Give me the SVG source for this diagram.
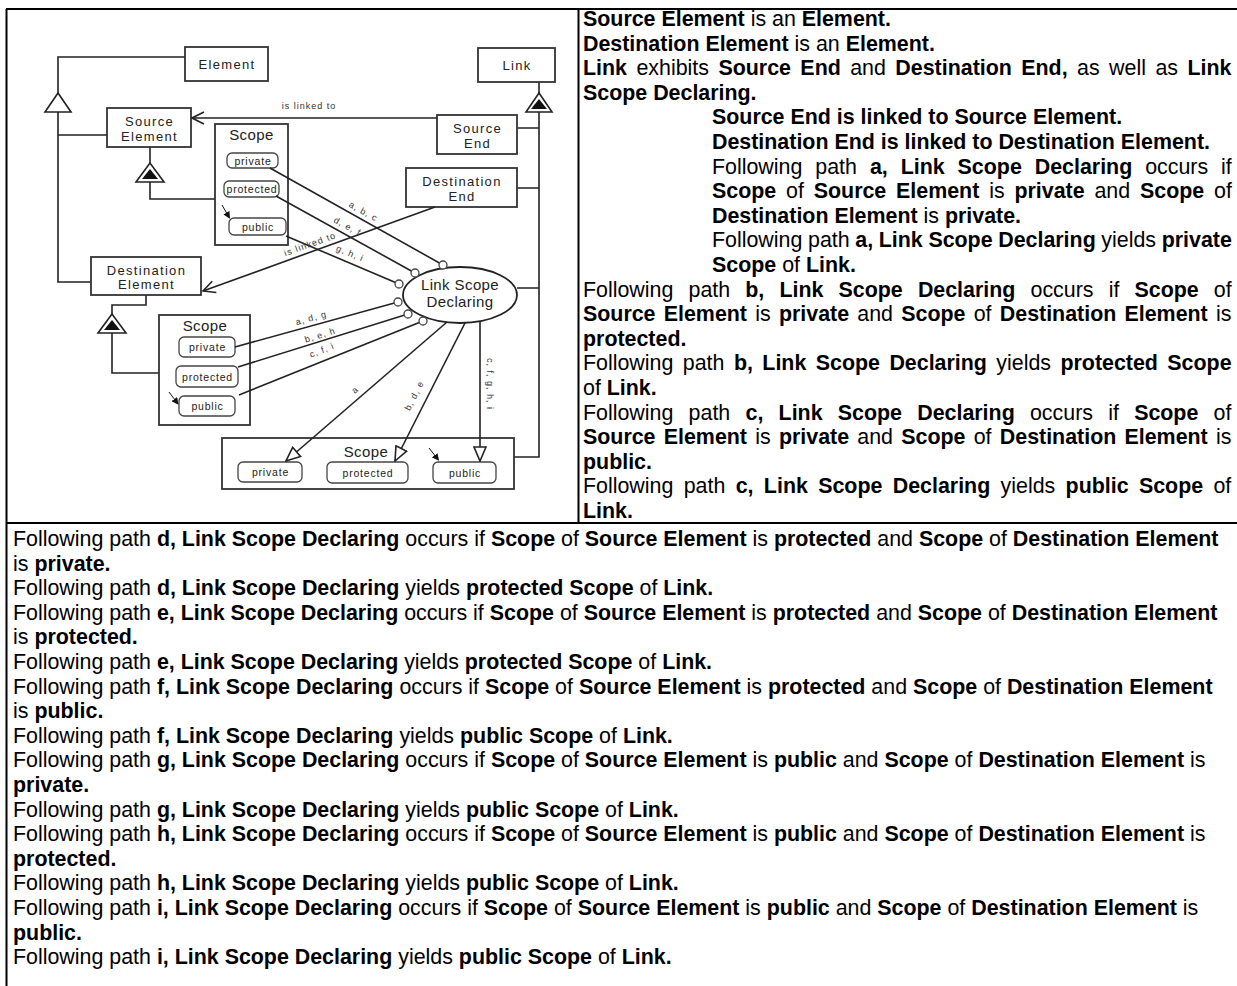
<svg xmlns="http://www.w3.org/2000/svg" width="1237" height="986" viewBox="0 0 1237 986">
<style>
.tx{font-family:"Liberation Sans",Arial,sans-serif;font-size:21.4px;fill:#000}
.b{font-weight:bold}
.box{fill:#fff;stroke:#333;stroke-width:1.8}
.pill{fill:#fff;stroke:#444;stroke-width:1.3}
.lbl{font-family:"Liberation Sans",Arial,sans-serif;font-size:13px;letter-spacing:1.3px;fill:#222;text-anchor:middle}
.sc{font-family:"Liberation Sans",Arial,sans-serif;font-size:15px;letter-spacing:0.4px;fill:#222;text-anchor:middle}
.pl{font-family:"Liberation Sans",Arial,sans-serif;font-size:10.5px;letter-spacing:0.8px;fill:#222;text-anchor:middle}
.el{font-family:"Liberation Sans",Arial,sans-serif;font-size:9px;letter-spacing:1px;fill:#333;text-anchor:middle}
.ov{font-family:"Liberation Sans",Arial,sans-serif;font-size:15px;letter-spacing:0.4px;fill:#222;text-anchor:middle}
.ln{fill:none;stroke:#222;stroke-width:1.6}
.tri{fill:#fff;stroke:#222;stroke-width:1.6}
.grid{stroke:#000;stroke-width:2;fill:none}
</style>
<defs>
<marker id="vee" viewBox="0 0 14 14" refX="13" refY="7" markerWidth="14" markerHeight="14" orient="auto" markerUnits="userSpaceOnUse"><path d="M1,1 L13,7 L1,13" fill="none" stroke="#222" stroke-width="1.6"/></marker>
<marker id="otri" viewBox="0 0 16 14" refX="15" refY="7" markerWidth="16" markerHeight="14" orient="auto" markerUnits="userSpaceOnUse"><path d="M1,1 L15,7 L1,13 Z" fill="#fff" stroke="#222" stroke-width="1.6"/></marker>
<marker id="small" viewBox="0 0 8 8" refX="7" refY="4" markerWidth="7" markerHeight="7" orient="auto" markerUnits="userSpaceOnUse"><path d="M0,0 L8,4 L0,8 Z" fill="#111"/></marker>
</defs>
<rect x="0" y="0" width="1237" height="986" fill="#fff"/>
<g id="table">
<path class="grid" d="M6,9 H1237 M6.5,9 V986 M578.5,9 V523 M6,523 H1237"/>
</g>
<g id="structure">
<path class="ln" d="M185,57 H58 V93 M58,112 V282 H91 M58,135 H107"/>
<polygon class="tri" points="58,93 45,112 71,112"/>
<path class="ln" d="M150,147 V163 M150,182 V199 H215"/>
<polygon class="tri" points="150,163 136,182 164,182"/>
<polygon points="150,169 142,179 158,179" fill="#111"/>
<path class="ln" d="M146,295 V305 H112 V314 M112,333 V373 H159"/>
<polygon class="tri" points="112,314 98,333 126,333"/>
<polygon points="112,320 104,330 120,330" fill="#111"/>
<path class="ln" d="M539,82 V93 M539,112 V457 H514 M517,128 H539 M517,188 H539 M517,288 H539"/>
<polygon class="tri" points="539,93 526,112 552,112"/>
<polygon points="539,99 531,109 547,109" fill="#111"/>
</g>
<g id="element"><rect class="box" x="185" y="47" width="83" height="34"/><text class="lbl" x="227" y="69">Element</text></g>
<g id="link"><rect class="box" x="478" y="48" width="77" height="34"/><text class="lbl" x="517" y="70">Link</text></g>
<g id="source-element"><rect class="box" x="107" y="108" width="84" height="39"/><text class="lbl" x="149.5" y="126">Source</text><text class="lbl" x="149.5" y="140.5">Element</text></g>
<g id="source-end"><rect class="box" x="437" y="115" width="80" height="39"/><text class="lbl" x="477.5" y="133">Source</text><text class="lbl" x="477.5" y="147.5">End</text></g>
<g id="destination-end"><rect class="box" x="406" y="168" width="111" height="39"/><text class="lbl" x="462" y="186">Destination</text><text class="lbl" x="462" y="200.5">End</text></g>
<g id="destination-element"><rect class="box" x="91" y="257" width="110" height="38"/><text class="lbl" x="146.5" y="274.5">Destination</text><text class="lbl" x="146.5" y="289">Element</text></g>
<g id="source-scope">
<rect class="box" x="215" y="124" width="73" height="121"/><text class="sc" x="251.5" y="140">Scope</text>
<rect class="pill" x="227" y="153" width="51" height="15" rx="5"/><text class="pl" x="253" y="164.5">private</text>
<rect class="pill" x="224" y="181" width="55" height="16" rx="5"/><text class="pl" x="252" y="193">protected</text>
<rect class="pill" x="229" y="218" width="57" height="17" rx="5"/><text class="pl" x="258" y="230.5">public</text>
<path d="M222,205 L229.5,218" stroke="#111" stroke-width="1" marker-end="url(#small)"/>
</g>
<g id="destination-scope">
<rect class="box" x="159" y="315" width="91" height="110"/><text class="sc" x="205" y="331">Scope</text>
<rect class="pill" x="179" y="337" width="56" height="20" rx="5"/><text class="pl" x="207.5" y="351">private</text>
<rect class="pill" x="176" y="366" width="62" height="21" rx="5"/><text class="pl" x="207.5" y="380.5">protected</text>
<rect class="pill" x="179" y="396" width="56" height="20" rx="5"/><text class="pl" x="207.5" y="410">public</text>
<path d="M169,392 L178,404" stroke="#111" stroke-width="1" marker-end="url(#small)"/>
</g>
<g id="link-scope">
<rect class="box" x="222" y="438" width="292" height="51"/><text class="sc" x="366" y="457">Scope</text>
<rect class="pill" x="238" y="462" width="64" height="20" rx="5"/><text class="pl" x="270.5" y="476">private</text>
<rect class="pill" x="327" y="462" width="81" height="21" rx="5"/><text class="pl" x="368" y="476.5">protected</text>
<rect class="pill" x="433" y="462" width="63" height="21" rx="5"/><text class="pl" x="465" y="476.5">public</text>
<path d="M429,448 L438.5,460" stroke="#111" stroke-width="1" marker-end="url(#small)"/>
</g>
<g id="link-scope-declaring"><ellipse cx="460" cy="295" rx="57" ry="28" fill="#fff" stroke="#222" stroke-width="1.8"/><text class="ov" x="460" y="290">Link Scope</text><text class="ov" x="460" y="307">Declaring</text></g>
<g id="connectors">
<path class="ln" d="M437,118 H192" marker-end="url(#vee)"/>
<path class="ln" d="M435,207 L203,291" marker-end="url(#vee)"/>
<path class="ln" d="M270,168 L443,265 M276,196 L415,273 M286,236 L399,284 M235,347 L398,302 M238,367 L408,314 M239,395 L423,321"/>
<g fill="#fff" stroke="#444" stroke-width="1.3">
<circle cx="443" cy="265" r="4"/><circle cx="415" cy="273" r="4"/><circle cx="399" cy="284" r="4"/><circle cx="398" cy="302" r="4"/><circle cx="408" cy="314" r="4"/><circle cx="423" cy="321" r="4"/>
</g>
<path class="ln" d="M447,322 L286,461" marker-end="url(#otri)"/>
<path class="ln" d="M465,323 L395,461" marker-end="url(#otri)"/>
<path class="ln" d="M480,321 L480,461" marker-end="url(#otri)"/>
<text class="el" x="309" y="109">is linked to</text>
<text class="el" transform="translate(311,247) rotate(-19.6)">is linked to</text>
<text class="el" transform="translate(362,214) rotate(29)">a, b, c</text>
<text class="el" transform="translate(346,229) rotate(28.6)">d, e, f</text>
<text class="el" transform="translate(349,256) rotate(22.7)">g, h, i</text>
<text class="el" transform="translate(312,321) rotate(-15.3)">a, d, g</text>
<text class="el" transform="translate(321,338) rotate(-17)">b, e, h</text>
<text class="el" transform="translate(323,353) rotate(-21.7)">c, f, i</text>
<text class="el" transform="translate(357,392) rotate(-40.8)">a</text>
<text class="el" transform="translate(417,397) rotate(-62.6)">b, d, e</text>
<text class="el" transform="translate(487,384) rotate(90)">c, f, g, h, i</text>
</g>
<g id="right-text" class="tx">
<text x="583" y="26"><tspan class="b">Source Element</tspan> is an <tspan class="b">Element.</tspan></text>
<text x="583" y="50.6"><tspan class="b">Destination Element</tspan> is an <tspan class="b">Element.</tspan></text>
<text x="583" y="75.2" word-spacing="3.5"><tspan class="b">Link</tspan> exhibits <tspan class="b">Source End</tspan> and <tspan class="b">Destination End,</tspan> as well as <tspan class="b">Link</tspan></text>
<text x="583" y="99.8" class="b">Scope Declaring.</text>
<text x="712" y="124.4" class="b">Source End is linked to Source Element.</text>
<text x="712" y="149" class="b">Destination End is linked to Destination Element.</text>
<text x="712" y="173.6" word-spacing="7">Following path <tspan class="b">a, Link Scope Declaring</tspan> occurs if</text>
<text x="712" y="198.2" word-spacing="3.9"><tspan class="b">Scope</tspan> of <tspan class="b">Source Element</tspan> is <tspan class="b">private</tspan> and <tspan class="b">Scope</tspan> of</text>
<text x="712" y="222.8"><tspan class="b">Destination Element</tspan> is <tspan class="b">private.</tspan></text>
<text x="712" y="247.4" word-spacing="-0.3">Following path <tspan class="b">a, Link Scope Declaring</tspan> yields <tspan class="b">private</tspan></text>
<text x="712" y="272"><tspan class="b">Scope</tspan> of <tspan class="b">Link.</tspan></text>
<text x="583" y="296.6" word-spacing="9.2">Following path <tspan class="b">b, Link Scope Declaring</tspan> occurs if <tspan class="b">Scope</tspan> of</text>
<text x="583" y="321.2" word-spacing="2.3"><tspan class="b">Source Element</tspan> is <tspan class="b">private</tspan> and <tspan class="b">Scope</tspan> of <tspan class="b">Destination Element</tspan> is</text>
<text x="583" y="345.8" class="b">protected.</text>
<text x="583" y="370.4" word-spacing="3.5">Following path <tspan class="b">b, Link Scope Declaring</tspan> yields <tspan class="b">protected Scope</tspan></text>
<text x="583" y="395">of <tspan class="b">Link.</tspan></text>
<text x="583" y="419.6" word-spacing="9.3">Following path <tspan class="b">c, Link Scope Declaring</tspan> occurs if <tspan class="b">Scope</tspan> of</text>
<text x="583" y="444.2" word-spacing="2.3"><tspan class="b">Source Element</tspan> is <tspan class="b">private</tspan> and <tspan class="b">Scope</tspan> of <tspan class="b">Destination Element</tspan> is</text>
<text x="583" y="468.8" class="b">public.</text>
<text x="583" y="493.4" word-spacing="4.4">Following path <tspan class="b">c, Link Scope Declaring</tspan> yields <tspan class="b">public Scope</tspan> of</text>
<text x="583" y="518" class="b">Link.</text>
</g>
<g id="bottom-text" class="tx">
<text x="13" y="546">Following path <tspan class="b">d, Link Scope Declaring</tspan> occurs if <tspan class="b">Scope</tspan> of <tspan class="b">Source Element</tspan> is <tspan class="b">protected</tspan> and <tspan class="b">Scope</tspan> of <tspan class="b">Destination Element</tspan></text>
<text x="13" y="570.6">is <tspan class="b">private.</tspan></text>
<text x="13" y="595.2">Following path <tspan class="b">d, Link Scope Declaring</tspan> yields <tspan class="b">protected Scope</tspan> of <tspan class="b">Link.</tspan></text>
<text x="13" y="619.8">Following path <tspan class="b">e, Link Scope Declaring</tspan> occurs if <tspan class="b">Scope</tspan> of <tspan class="b">Source Element</tspan> is <tspan class="b">protected</tspan> and <tspan class="b">Scope</tspan> of <tspan class="b">Destination Element</tspan></text>
<text x="13" y="644.4">is <tspan class="b">protected.</tspan></text>
<text x="13" y="669">Following path <tspan class="b">e, Link Scope Declaring</tspan> yields <tspan class="b">protected Scope</tspan> of <tspan class="b">Link.</tspan></text>
<text x="13" y="693.6">Following path <tspan class="b">f, Link Scope Declaring</tspan> occurs if <tspan class="b">Scope</tspan> of <tspan class="b">Source Element</tspan> is <tspan class="b">protected</tspan> and <tspan class="b">Scope</tspan> of <tspan class="b">Destination Element</tspan></text>
<text x="13" y="718.2">is <tspan class="b">public.</tspan></text>
<text x="13" y="742.8">Following path <tspan class="b">f, Link Scope Declaring</tspan> yields <tspan class="b">public Scope</tspan> of <tspan class="b">Link.</tspan></text>
<text x="13" y="767.4">Following path <tspan class="b">g, Link Scope Declaring</tspan> occurs if <tspan class="b">Scope</tspan> of <tspan class="b">Source Element</tspan> is <tspan class="b">public</tspan> and <tspan class="b">Scope</tspan> of <tspan class="b">Destination Element</tspan> is</text>
<text x="13" y="792" class="b">private.</text>
<text x="13" y="816.6">Following path <tspan class="b">g, Link Scope Declaring</tspan> yields <tspan class="b">public Scope</tspan> of <tspan class="b">Link.</tspan></text>
<text x="13" y="841.2">Following path <tspan class="b">h, Link Scope Declaring</tspan> occurs if <tspan class="b">Scope</tspan> of <tspan class="b">Source Element</tspan> is <tspan class="b">public</tspan> and <tspan class="b">Scope</tspan> of <tspan class="b">Destination Element</tspan> is</text>
<text x="13" y="865.8" class="b">protected.</text>
<text x="13" y="890.4">Following path <tspan class="b">h, Link Scope Declaring</tspan> yields <tspan class="b">public Scope</tspan> of <tspan class="b">Link.</tspan></text>
<text x="13" y="915">Following path <tspan class="b">i, Link Scope Declaring</tspan> occurs if <tspan class="b">Scope</tspan> of <tspan class="b">Source Element</tspan> is <tspan class="b">public</tspan> and <tspan class="b">Scope</tspan> of <tspan class="b">Destination Element</tspan> is</text>
<text x="13" y="939.6" class="b">public.</text>
<text x="13" y="964.2">Following path <tspan class="b">i, Link Scope Declaring</tspan> yields <tspan class="b">public Scope</tspan> of <tspan class="b">Link.</tspan></text>
</g>
</svg>
